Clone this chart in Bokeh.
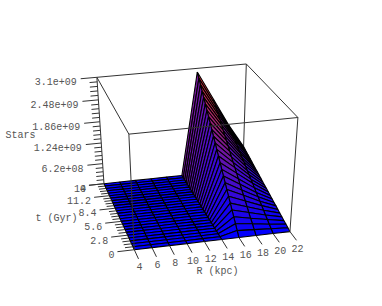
import numpy as np
from bokeh.plotting import figure
from bokeh.embed import file_html
from bokeh.resources import INLINE
from bokeh.core.properties import value

# ---- data ----
R_values = [4, 6, 8, 10, 12, 14, 16, 18, 20, 22]
t_values = [0, 0.56, 1.12, 1.68, 2.24, 2.8, 3.36, 3.92, 4.48, 5.04, 5.6, 6.16, 6.72,
            7.28, 7.84, 8.4, 8.96, 9.52, 10.08, 10.64, 11.2, 11.76, 12.32, 12.88, 13.44, 14]
stars_R4_to_R14 = [0] * 26
stars_R16 = [0, .12, .24, .36, .48, .6, .72, .84, .96, 1.08, 1.2, 1.32, 1.44, 1.56, 1.68, 1.8,
             1.92, 2.04, 2.16, 2.28, 2.4, 2.52, 2.64, 2.76, 2.88, 3.0]
stars_R18 = [0, .09, .18, .26, .35, .44, .53, .62, .70, .79, .88, .97, 1.06, 1.14, 1.23, 1.32,
             1.41, 1.50, 1.58, 1.67, 1.76, 1.85, 1.94, 2.02, 2.11, 2.2]
stars_R20 = [0, .06, .11, .17, .22, .28, .34, .39, .45, .50, .56, .62, .67, .73, .78, .84,
             .90, .95, 1.01, 1.06, 1.12, 1.18, 1.23, 1.29, 1.34, 1.4]
stars_R22 = [0, .03, .06, .08, .11, .14, .17, .20, .22, .25, .28, .31, .34, .36, .39, .42,
             .45, .48, .50, .53, .56, .59, .62, .64, .67, .7]
R_ticks = [4, 6, 8, 10, 12, 14, 16, 18, 20, 22]
t_ticks = [0, 2.8, 5.6, 8.4, 11.2, 14]
t_tick_labels = ["0", "2.8", "5.6", "8.4", "11.2", "14"]
z_ticks = [0, 0.62, 1.24, 1.86, 2.48, 3.1]
z_tick_labels = ["0", "6.2e+08", "1.24e+09", "1.86e+09", "2.48e+09", "3.1e+09"]

# ---- perspective camera, fitted to the box corners ----
world = [(4, 0, 0), (22, 0, 0), (4, 14, 0), (22, 14, 0),
         (4, 0, 3.1), (22, 0, 3.1), (4, 14, 3.1), (22, 14, 3.1)]
image = [(134, 250), (289, 230), (103, 182), (243, 170),
         (128, 134), (298, 117), (97, 77), (245, 63)]
rows = []
for (X, Y, Z), (u, v) in zip(world, image):
    rows.append([X, Y, Z, 1, 0, 0, 0, 0, -u * X, -u * Y, -u * Z, -u])
    rows.append([0, 0, 0, 0, X, Y, Z, 1, -v * X, -v * Y, -v * Z, -v])
P = np.linalg.svd(np.array(rows, float))[2][-1].reshape(3, 4)


def proj(X, Y, Z):
    h = P @ np.array([X, Y, Z, 1.0])
    return float(h[0] / h[2]), float(h[1] / h[2])


stops = [(0.0, (0, 0, 255)), (0.25, (60, 10, 210)), (0.5, (125, 25, 150)),
         (0.75, (205, 45, 75)), (1.0, (255, 65, 0))]


def colour(f):
    f = min(max(f, 0), 1)
    for (a, ca), (b, cb) in zip(stops, stops[1:]):
        if f <= b:
            w = (f - a) / (b - a)
            c = [int(ca[i] + w * (cb[i] - ca[i])) for i in range(3)]
            return "#%02x%02x%02x" % tuple(c)
    return "#ff4000"


columns = [stars_R4_to_R14] * 6 + [stars_R16, stars_R18, stars_R20, stars_R22]

p = figure(width=366, height=290, x_range=(0, 366), y_range=(290, 0),
           output_backend="svg", toolbar_location=None, min_border=0)
p.axis.visible = False
p.grid.visible = False
p.outline_line_color = None
p.background_fill_color = "white"
BOX = "#333333"


def lines(pairs, color=BOX, width=1.0):
    xs, ys = [], []
    for a, b in pairs:
        ax, ay = proj(*a)
        bx, by = proj(*b)
        xs.append([ax, bx])
        ys.append([ay, by])
    p.multi_line(xs, ys, line_color=color, line_width=width)


Rmin, Rmax, tmin, tmax, zmax = R_values[0], R_values[-1], t_values[0], t_values[-1], z_ticks[-1]

# back part of the box
lines([((Rmin, tmax, 0), (Rmin, tmax, zmax)),
       ((Rmax, tmax, 0), (Rmax, tmax, zmax)),
       ((Rmin, tmax, zmax), (Rmax, tmax, zmax)),
       ((Rmin, tmax, zmax), (Rmin, tmin, zmax)),
       ((Rmax, tmax, zmax), (Rmax, tmin, zmax))])

# surface, far rows first
qx, qy, qc = [], [], []
for j in range(len(t_values) - 2, -1, -1):
    for i in range(len(R_values) - 2, -1, -1):
        corners = [(i, j), (i + 1, j), (i + 1, j + 1), (i, j + 1)]
        pts = [proj(R_values[a], t_values[b], columns[a][b]) for a, b in corners]
        qx.append([q[0] for q in pts])
        qy.append([q[1] for q in pts])
        qc.append(colour(np.mean([columns[a][b] for a, b in corners]) / zmax))
p.patches(qx, qy, fill_color=qc, line_color="#000000", line_width=1.1)

# front part of the box
lines([((Rmin, tmin, 0), (Rmin, tmin, zmax)),
       ((Rmax, tmin, 0), (Rmax, tmin, zmax)),
       ((Rmin, tmin, zmax), (Rmax, tmin, zmax))])

# ticks
tick_pairs = []
for z0, z1 in zip(z_ticks, z_ticks[1:]):
    for k in range(1, 5):
        z = z0 + (z1 - z0) * k / 5
        tick_pairs.append(((Rmin, tmax, z), (Rmin - 0.9, tmax, z)))
for t0, t1 in zip(t_ticks, t_ticks[1:]):
    for k in range(1, 5):
        t = t0 + (t1 - t0) * k / 5
        tick_pairs.append(((Rmin, t, 0), (Rmin - 0.9, t, 0)))
for z in z_ticks:
    tick_pairs.append(((Rmin, tmax, z), (Rmin - 1.9, tmax, z)))
for t in t_ticks:
    tick_pairs.append(((Rmin, t, 0), (Rmin - 1.9, t, 0)))
for r in R_ticks:
    tick_pairs.append(((r, tmin, 0), (r, tmin - 1.7, 0)))
lines(tick_pairs)

# tick labels
TEXT = "#555555"


def put(xs, ys, txt, align, baseline="middle"):
    p.text(xs, ys, text=txt, text_font=value("Liberation Mono"), text_font_size="10px",
           text_color=TEXT, text_align=align, text_baseline=baseline)


zx, zy, tx, ty = [], [], [], []
for z in z_ticks[1:]:
    ex, ey = proj(Rmin - 1.9, tmax, z)
    zx.append(ex - 4)
    zy.append(ey + 3)
put(zx, zy, z_tick_labels[1:], "right")
ex, ey = proj(Rmin - 1.9, tmax, z_ticks[0])
put([ex - 3], [ey + 3], z_tick_labels[:1], "right")
for t in t_ticks:
    ex, ey = proj(Rmin - 1.9, t, 0)
    tx.append(ex - 3)
    ty.append(ey + 3)
put(tx, ty, t_tick_labels, "right")
rx, ry = [], []
for r in R_ticks:
    ex, ey = proj(r, tmin - 1.7, 0)
    rx.append(ex + 1)
    ry.append(ey + 8)
put(rx, ry, [str(r) for r in R_ticks], "center")

# axis titles
put([20], [135], ["Stars"], "center")
put([56], [218], ["t (Gyr)"], "center")
put([217], [271], ["R (kpc)"], "center")

open("out.html", "w").write(file_html(p, INLINE))
